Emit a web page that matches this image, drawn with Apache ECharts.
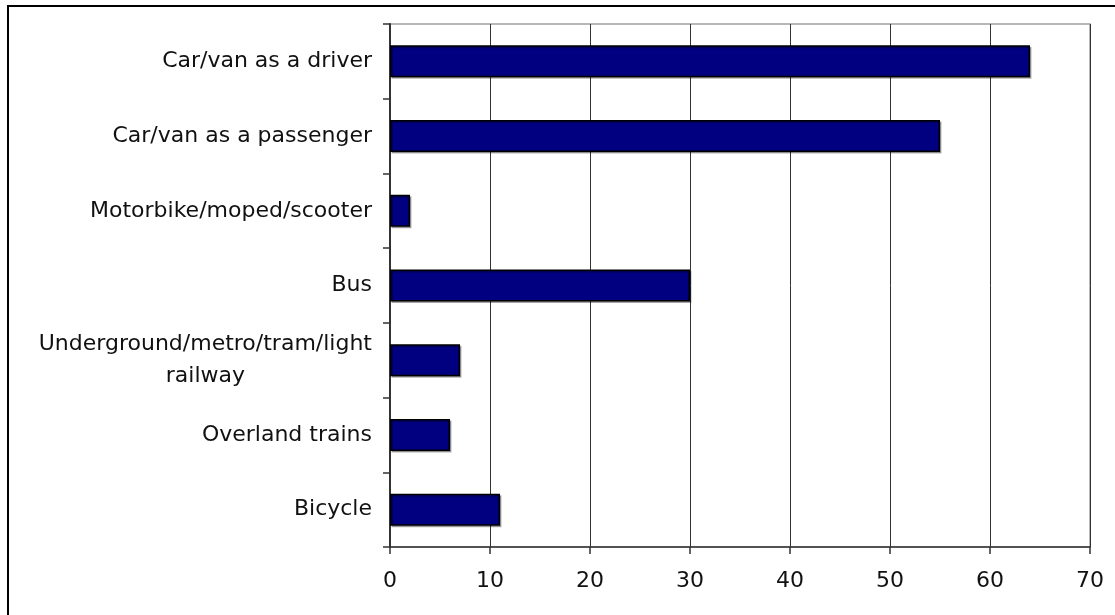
<!DOCTYPE html>
<html>
<head>
<meta charset="utf-8">
<script src="https://cdn.jsdelivr.net/npm/echarts@6/dist/echarts.min.js"></script>
<style>
  html, body { margin: 0; padding: 0; background: #fff; }
  #chart { width: 1115px; height: 615px; }
</style>
</head>
<body>
<div id="chart"></div>
<script>
// Modes of transport, top to bottom
const categories = [
  'Car/van as a driver',
  'Car/van as a passenger',
  'Motorbike/moped/scooter',
  'Bus',
  'Underground/metro/tram/light\nrailway',
  'Overland trains',
  'Bicycle'
];
const values = [64, 55, 2, 30, 7, 6, 11];
const xTicks = { min: 0, max: 70, interval: 10 };

const FONT = '"DejaVu Sans", Verdana, sans-serif';

const chart = echarts.init(document.getElementById('chart'), null, { renderer: 'canvas' });

chart.setOption({
  animation: false,
  backgroundColor: '#ffffff',
  graphic: [{
    type: 'rect',
    shape: { x: 8, y: 6, width: 1200, height: 700 },
    style: { fill: 'none', stroke: '#000', lineWidth: 2 },
    silent: true,
    z: 100
  }],
  grid: {
    left: 390, top: 24, right: 25, bottom: 68,
    show: true, borderColor: '#a0a0a0', borderWidth: 1.5,
    containLabel: false
  },
  xAxis: {
    type: 'value',
    min: xTicks.min, max: xTicks.max, interval: xTicks.interval,
    axisLine: { show: true, lineStyle: { color: '#333', width: 1.5 } },
    axisTick: { show: true, inside: false, length: 7, lineStyle: { color: '#333', width: 1.5 } },
    splitLine: { show: true, lineStyle: { color: '#333', width: 1 } },
    axisLabel: { color: '#111', fontFamily: FONT, fontSize: 22, margin: 23 }
  },
  yAxis: {
    type: 'category',
    data: categories,
    inverse: true,
    axisLine: { show: true, lineStyle: { color: '#333', width: 2 } },
    axisTick: { show: true, inside: false, length: 7, lineStyle: { color: '#333', width: 1.5 } },
    splitLine: { show: false },
    axisLabel: {
      color: '#111', fontFamily: FONT, fontSize: 22, margin: 18,
      formatter: function (v) {
        if (v.indexOf('\n') >= 0) {
          return v.split('\n').map(function (s) { return '{c|' + s + '}'; }).join('\n');
        }
        return v;
      },
      rich: {
        c: { align: 'center', color: '#111', fontFamily: FONT, fontSize: 22, lineHeight: 32 }
      }
    }
  },
  series: [{
    type: 'bar',
    data: values,
    barWidth: 32,
    itemStyle: {
      color: '#000080',
      borderColor: '#000',
      borderWidth: 1.5,
      shadowColor: 'rgba(0,0,0,0.3)',
      shadowOffsetX: 1.5,
      shadowOffsetY: 1.5,
      shadowBlur: 0
    }
  }]
});
</script>
</body>
</html>
